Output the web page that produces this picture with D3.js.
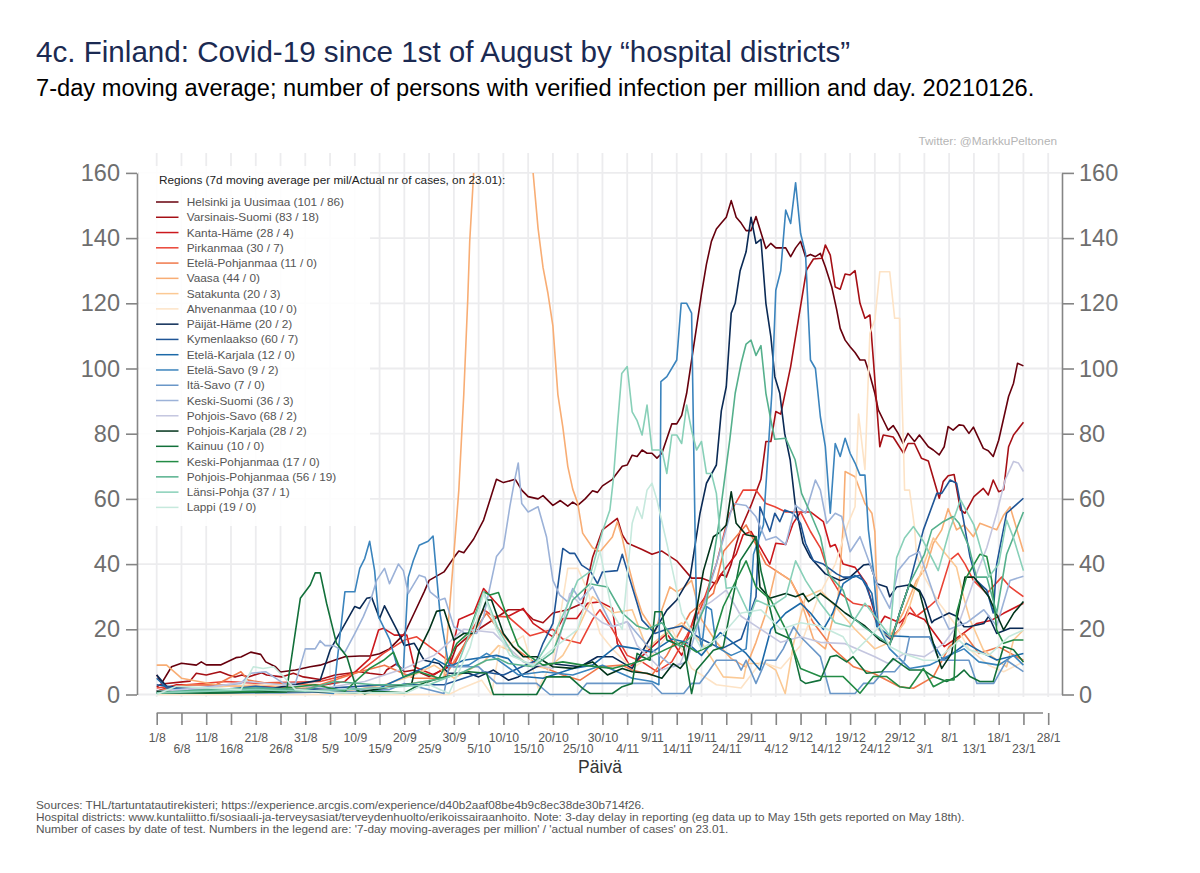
<!DOCTYPE html>
<html><head><meta charset="utf-8">
<script src="https://cdn.jsdelivr.net/npm/d3@7"></script>
<style>html,body{margin:0;background:#fff}svg{display:block;font-family:"Liberation Sans",Arial,sans-serif}</style>
</head><body><div id="c"></div>
<script>
// Values are [days since 1 Aug, cases per million] at the line's visible vertices.
const helsinki=[[0,6],[1,3.5],[3,8.5],[5,9.6],[8,9],[9,10],[10,9.1],[13,9.1],[16,11.3],[17,11.5],[19,13],[21,12.3],[22,10],[24,8.5],[25,6.9],[28,7.5],[31,8.5],[33,9],[36,10.6],[38,11.6],[41,11.8],[43,11.8],[45,12.5],[47,14],[50,18.6],[52,25],[54,31.5],[55,35],[58,37.6],[60,42],[61,44],[62,43.5],[64,47.7],[66,53.5],[68.6,66],[70,65],[72.4,66],[73.7,62.7],[75,60.7],[77,60],[78,61],[80,58],[81.5,59.5],[83,57.8],[84,59],[85,58],[86.5,60],[88,62.5],[89,62],[90,64],[92,66],[94,70],[95,70.4],[96,73.4],[97,73],[98,75],[99,74],[100,74],[101,72.5],[102,74],[104,83],[105,83],[106,85.6],[107,92.4],[108,102.6],[109,112.7],[110,123],[111,132],[112,139],[113,142.8],[114,144.6],[115,146.4],[116,151.5],[117,146.4],[118,144.6],[119,142.3],[120,142.3],[121,146.6],[122,141.7],[123,136.8],[124,138.4],[125,137],[127,137],[128,134.3],[129,137],[130,139],[131,134.3],[132,135],[133,134.3],[134,135.3],[135,131.2],[136.3,125],[137.3,118],[138,112.3],[139,108.7],[140,106.7],[141,104.9],[142,102.6],[143,102.6],[144,98],[145,92.4],[145.7,87.3],[146.7,84.2],[147.7,81.1],[148.7,82.5],[149.7,80.1],[150.7,77],[151.7,80.1],[153,77.6],[154,79.6],[155.8,76],[156.8,75],[158,73.5],[159,76],[159.8,82.2],[160.8,81.1],[162,82.7],[162.9,82.5],[164,80.1],[164.9,82],[166.9,75.5],[167.9,74.8],[168.9,73],[170,78],[172,91.4],[173,95.5],[173.8,101.6],[175,100.8]];
const varsinais=[[0,2.4],[1,3.2],[6.7,4.1],[8,6.5],[10,6],[12.8,7],[14.5,6],[15.8,5.4],[17.2,6],[18.5,5.4],[21.2,6.7],[22.2,6],[25.2,5.4],[27.6,6.5],[29.6,5.4],[33,4.6],[36,6],[41,7],[43,6.5],[45.8,6],[46.4,7.5],[48.5,9.5],[50,7],[52,7.5],[55,5.5],[59,8.5],[60.5,14.6],[63,18],[66,21],[69,24],[71,26],[74,26],[76,23],[78,22],[80,25],[83,26],[86,28],[88,42],[90,50.5],[93,54],[94,49],[95,46.5],[98,44.5],[100,43],[102,44],[105,41],[108,35.7],[110,35.7],[113,34],[114,37],[115,36],[116,40],[117,46],[118,51],[120,58],[122,66],[123,77.6],[124,77.6],[125,86.8],[126,86],[128,100.6],[131.2,130.2],[132.6,133.6],[134.3,133.8],[135,137.9],[136,134.8],[137,125],[138,124.3],[139,129],[140,128.7],[141,130],[142,120],[143,115.4],[144,116.4],[144.7,102.6],[146,76],[146.7,79.6],[148.7,79],[150.8,74],[151.7,77],[153,77],[154.4,72.5],[155.8,71.6],[158,60.2],[158.8,65.3],[159.8,67.1],[161,67.5],[162.3,56.6],[163.2,55.6],[165,60.7],[166.9,63.2],[167.9,61.2],[168.9,65.8],[170,62.2],[171,62.8],[172,76],[173,79.6],[175,83.5]];
const kantaHame=[[0,1],[4,3],[10,3],[20,2.5],[30,2],[38,4],[43,11],[44.8,19.8],[45.8,20.3],[48,18.2],[50.5,18.2],[52,8.5],[56,6],[59,9],[61,23],[64,25],[66,32.5],[68,29],[71,24],[74,26.4],[76,21.8],[80,17.7],[82,23.3],[84.8,23.3],[87,28],[89.5,28.4],[92,26.5],[93,15.7],[95.6,8.5],[99.6,14],[103,18.7],[106,12],[109,26],[113,35],[117,43],[118.4,49],[120,50],[123.8,40],[125,46.4],[127,46],[128.5,52.5],[130,56],[132,56],[134.6,53],[136,45.3],[137,46],[138.6,40],[141,39],[143.3,34],[145.7,20.8],[147,24],[150,22],[152,25],[155,23],[159,14.7],[162,17.8],[165.6,21.8],[168.6,22.8],[171,24.9],[175,28]];
const pirkanmaa=[[0,2],[6,3],[14,4],[20,3.5],[33,4],[41,7],[45.8,12.6],[50,16.7],[52.5,17.7],[55.2,14.6],[57,12.6],[60,9],[63,18],[66,26],[68,24],[71,23.8],[75.4,18],[80,20],[82,17],[85.5,15.7],[88,23],[89.5,26],[92,20],[95,12],[98,10],[101,7],[104,10],[107,18],[110,27],[113,40],[115.5,55],[118.4,62.7],[121,62.7],[123,58.6],[124.8,57.6],[127,56],[130,56],[132,50],[134,45],[136,36],[138,31],[140.6,28],[144,27],[145.7,20.8],[148,17],[150,20],[152,27],[153.4,24],[156,27],[157.8,29.5],[160.2,41.3],[161.8,43.3],[163.2,40],[164.9,35],[167.6,31],[170.6,36],[172.3,33],[175,30]];
const etelaPohjanmaa=[[0,1],[6,3],[12,3],[17,7],[18.5,4.4],[22,3.5],[33,3],[41,7],[46,9],[52,5],[58,5],[62,15],[66.6,24.9],[68,22],[72,14.6],[77,9],[82,6],[85.5,4.4],[89.5,8.5],[94,9],[96,7.5],[100,6],[103,12],[107.7,25],[112.4,31],[114.5,44],[119,52],[123,40],[127,36],[128,35],[132.6,22],[136.6,14],[140.7,8.5],[144.7,6.5],[150,2.4],[152.8,1.9],[156.8,5.4],[160,14.6],[163,18.7],[166,12.6],[170,14.6],[175,10.5]];
const vaasa=[[0,9],[2,9],[5,5],[12,3],[22,2],[34,1],[45,2],[54,4],[58,5],[60,43],[61,62.7],[62,92],[62.8,121],[63.2,139],[64,160],[65,178],[75,178],[76,160],[77,143],[78,131],[79,123],[80,113],[81,92],[82,82],[83,70],[84,63],[85,58.7],[86,49.5],[88,45],[89.5,43.8],[92,48.3],[93,53],[94,48],[95,41],[96.6,31.5],[98,25],[100.6,19],[102,26],[103.6,33],[105,31.5],[106.6,33],[108,35],[110,23],[113,16],[116,11],[119,8.4],[121,16],[123,25],[125,38],[128,35],[130,29],[132.6,17],[135,14],[137.6,30],[138.6,51.5],[139,68.4],[141,66.8],[143,58.6],[144.4,55.6],[145,50],[145.7,20],[148,17.7],[150.7,25],[153.4,35],[155.4,39],[156.8,46.4],[158.5,50.5],[159.8,57],[161.5,50.5],[163,52],[164.9,48.4],[166.2,52.5],[169.6,50.5],[171,55],[172.3,57.6],[175,43.8]];
const satakunta=[[0,1],[8,2],[20,3],[30,2],[38,1],[46,3],[52,6],[56,9],[60,5],[66,10],[69,15],[72,13],[75,9],[79,8],[82,12],[85,20],[88,30],[92,25],[96,26],[99,14],[102,18],[106,22],[110,16],[114.4,5.4],[118.5,5],[119.1,9.5],[123,9.5],[125,7.5],[126.9,0.3],[128.6,15.7],[131,30],[134,32],[137,27],[141,20],[145,14],[148,16],[151,22],[153,32],[156.8,48],[158.8,44],[161.5,39],[162.9,30],[164.2,23],[166.9,13.7],[169.6,10.6],[171.6,8.5],[173,16.7],[175,19.8]];
const ahvenanmaa=[[0,0],[59,0],[61,1.5],[65.6,4.4],[67.6,0],[69.3,14.6],[71,15],[74,18],[75.5,10.5],[77,2],[80,10],[83,38.7],[85,38.7],[87,32],[89.5,18.7],[92,14],[96,8],[100,12],[104,20],[108,8],[113,3],[118,2],[122,10],[126,8],[130,15],[133.6,30],[137,40],[139.6,52.5],[141,57.6],[141.7,86],[143,69],[144,110.8],[145,115],[146,129.7],[148,129.7],[149,115.4],[150,115.4],[150.8,75],[151,62.7],[152,62.7],[153,51.5],[153.4,43],[155,36],[158,28],[161,22],[164,14],[168,9],[171,7],[175,10]];
const paijatHame=[[0,6],[2,2.5],[8,2],[20,1],[33,4.4],[35,13.6],[37.7,20.8],[40,27],[41,26.4],[42.4,29.5],[43.4,29.8],[45,23.3],[46,27.2],[48.5,19.8],[50,15],[52,15.7],[54,10.5],[57,9.5],[59,6.5],[63,6.5],[65,5.4],[68,7.5],[71,4.4],[73,5.4],[76.7,8.5],[79.4,9.5],[85.5,8.5],[89,11.6],[92,11.6],[96,8],[100.6,19.7],[103,25.9],[105,29],[107.7,36],[109.7,55.6],[111,64.8],[113,70.4],[114,87],[115,94.4],[116,117],[116.8,120],[117.8,130],[119,135.8],[120,146.4],[121,138.4],[122,139.6],[123,120],[124,109.8],[124.8,97.5],[125.8,92.4],[126.8,80],[127.9,72],[128.9,58.6],[130.5,46.4],[132,42],[135,37],[138,35],[140,36],[142.7,39.7],[144,40],[145.4,34],[147.4,33],[148,30],[149.4,33],[151.8,33.6],[154,32],[155,29],[156.5,22],[157,22.8],[160,25],[161.5,24],[163,20.8],[164,20.8],[167,21.8],[168,24],[169.6,18.7],[172.3,20.3],[175,20.3]];
const kymenlaakso=[[0,3],[4,2],[15,1.5],[30,1.5],[46,3],[58,3],[66,7],[70,6],[76.7,10.5],[78,15.7],[80,21.8],[82,44.8],[83.4,43.3],[84.4,43.3],[85.8,39.7],[87.5,38],[89,34],[90,37.6],[93,38],[94,43],[95,38],[97,28],[98,22.8],[100.6,18.7],[103,20],[106,21],[110,17],[114,14],[118,17],[121,30],[121.8,57.6],[123.8,50],[124.8,55.6],[125.8,53],[126.8,56.6],[128.5,55.6],[130,52.5],[131,46.4],[132.6,41],[134.6,40],[137.3,37],[138.6,36],[140.6,36],[142,36.6],[143.3,33],[144.7,27],[145.7,20.8],[147,18.2],[148.4,16.7],[150,25],[152,34],[154.8,50.5],[157.5,61.7],[158.5,61.7],[160.2,65.8],[161.5,64.8],[162.9,53.5],[164.2,42.3],[165.5,35],[167.6,32],[168.9,25],[169.6,40],[171.6,55.6],[175,60.2]];
const etelaKarjala=[[0,5],[2,2],[10,1],[20,2.5],[30,1],[45,2],[55,9],[56,11],[59,8.5],[62,10.5],[68.6,12],[71,11],[74,5.5],[78,5],[84,8],[88,9],[93,15],[97,14],[100,13],[104,17],[107,16],[110,12],[113.8,19],[116.5,15.7],[119,12.6],[121.8,7.5],[124,20],[127,25],[130,28],[132,25],[134.6,20],[136.5,25],[138.6,34],[141,36.5],[142.7,35],[144.4,31],[145.4,20.8],[148,18],[152,17.7],[156,17.7],[158.8,10.5],[163.5,15.7],[167,12.6],[169.6,10.6],[175,12.6]];
const etelaSavo=[[0,1],[10,1],[22,2],[35.7,0.3],[37,18],[38,31.5],[40,31.5],[41,38.7],[42,41.7],[43,47],[44,38],[44.8,23.8],[47,17],[48.5,9],[49.8,7.5],[50.8,36],[51.8,41],[53,45.8],[54.8,47],[55.8,48.6],[57.2,24.9],[58.9,9.5],[60,8.5],[63,9],[66.6,12.6],[69,10.5],[73,6],[78,7],[84,6],[90,9],[96,5],[100,4],[101.4,3],[101.8,96],[103,97.5],[105,102.6],[105.9,120],[107,120],[108,117],[108.7,50],[109,25],[110,14],[111,27],[112,26],[113,14.6],[116,12],[119,14],[120,31],[120.5,43],[122.5,52],[124.2,92.4],[125,124],[126,130],[127,148.6],[128,144.5],[129,157],[130,141.5],[131,135.3],[132,102.6],[133,100],[134,85.2],[135,76],[136,55.6],[137,77],[138,73],[139,78.6],[140,74],[141,71],[142,67.3],[143,67.3],[143.7,50.5],[144.7,38],[145.7,20.8],[148,14],[152,8],[156,9],[160,12],[163,14],[166,10],[170,9],[173,12],[175,9]];
const itaSavo=[[0,0.5],[25,0.5],[40,1],[47,1.5],[50,3.4],[58,0.3],[59,8.5],[65,8.5],[68.6,3.4],[76.7,3.4],[79.4,0],[85,0],[86.8,3.4],[100,3.4],[102,0.3],[106.4,0.3],[108,3.4],[109.6,3.4],[111.4,7],[113,10.5],[117,10.5],[118,7.5],[119,10.5],[121,3.4],[123,10.5],[125,10.5],[126.5,14],[128.6,20.8],[130,17.7],[134,11.6],[136,0.3],[141,0.3],[142.7,3.4],[144.7,3.4],[146.7,7],[149,7],[151,10.5],[152,17.7],[156,17.7],[158,10.5],[161,10.5],[164,10.5],[165.6,3.4],[169,3.4],[171.6,10.5],[175,7]];
const keskiSuomi=[[0,1],[8,2],[17,3.4],[19,6.5],[22,7],[25.6,3.4],[28,3.4],[30,14],[32,14],[33,16.5],[34,15],[35.7,15],[38,13],[40,18.7],[41.7,23.8],[43.4,30],[44.4,35],[46,38.7],[47,34],[48.8,40],[49.8,38],[50.8,31],[53,36.6],[54.2,36],[55.2,31.5],[57.2,29],[58.2,29.5],[60,20.8],[62,19],[64.6,18.7],[66,23.8],[68.6,42.3],[70,45],[71.3,57.6],[72.3,66],[73,71],[73.7,58.6],[75,56],[77,57.6],[78.7,48.4],[80,35],[81.4,30.5],[83,28.4],[84,32.5],[85.5,29],[88,33],[92,20.8],[95,22.3],[99,15],[104.3,8.5],[107,10],[110.4,27],[113,40],[116.4,58.6],[119,58],[121,54.5],[123,47.4],[125,48.4],[127,46],[129,58],[131,55.6],[133,65.8],[134,62.7],[135.3,52.5],[137,55.6],[138.3,54.6],[140,43.8],[142,48.4],[144,40],[145.4,34],[148,26.4],[149.7,38],[152,42.3],[154,43.8],[155,39],[157.5,28],[160,20],[163.5,22],[167,26],[169.6,21],[172.3,35],[175,36.3]];
const pohjoisSavo=[[0,1],[10,2],[18,4],[25,3],[34,2],[42,4],[50,8],[56,12],[62,20],[68,19],[74,10],[80,8],[83.4,31],[86,27],[90,22],[92,20.8],[95,22.3],[97,15],[102,7.5],[105.7,9.5],[110.4,27],[112,28.5],[115,32],[118,24],[122,20],[126,16],[130,17.7],[134,16],[139,15.6],[145,11.6],[147.7,9.5],[151,12.6],[155,11.6],[159,15.7],[162,22],[165,35],[167.6,45],[169.6,55.6],[171.3,65.8],[173,71.5],[174,71],[175,68.4]];
const pohjoisKarjala=[[0,1],[10,0.5],[30,1],[40,0.5],[51.5,3.4],[53,13.6],[55,19.8],[56.5,25.5],[58,26],[60,16.7],[62,18.7],[64,18.7],[66.6,29],[67.6,29],[70,18.7],[72,14.6],[74,11.6],[76.7,11.6],[80,8.5],[84,8],[88,10],[91,6],[94,8],[96,7],[99,6.5],[102,5],[104.3,9.5],[105.7,8],[107,10.5],[108.4,20.8],[110.4,38],[112.4,48.4],[113.4,49.4],[115,52],[116,62.2],[117,52.5],[119,49],[121,48.4],[121.8,33],[123.8,29.5],[127,31],[129,30],[130.5,31],[131.6,28.5],[134,31],[136.6,28],[139,25],[143,21],[146,16.7],[148,15.2],[150,25],[152,34],[154,31.5],[155.5,22.8],[156.8,15.7],[158.5,8],[160.5,12.6],[161.5,22.8],[163.2,36],[165,36],[168,30],[171,19.8],[173,24.9],[175,28.5]];
const kainuu=[[0,0.5],[12,0.5],[26.2,0.8],[29,29.5],[31,33.6],[32,37.3],[33,37.3],[34.3,28],[36.3,15.7],[38.4,11.6],[40.4,1.4],[42,0.2],[44,1],[50,0.5],[53,3],[57,5],[60,6],[63,7],[66.6,6.5],[68,0],[76.7,0],[78.7,5.4],[83.4,5.4],[86,1.9],[87.5,0.3],[92,0.3],[94,2.4],[96,3.4],[97,12.6],[98,11.6],[99.6,10.5],[100.6,25.4],[102,25.4],[103,16.7],[106.4,14.6],[108,0.3],[109,7.5],[112.4,13.6],[114.4,14.6],[117.8,41],[121,48.4],[122,38],[125,19],[128,17],[130,4.4],[131,3.4],[134,4.4],[136,11.6],[137.3,12],[139.3,10],[140.6,11.6],[143.3,6.5],[146.4,7],[148.7,11],[152,7.5],[154.8,7.5],[156.8,5.5],[159.5,4],[161.5,5.5],[163,7.5],[164.2,5.5],[166.2,4],[168.9,4],[171,14.7],[173,13.7],[175,10]];
const keskiPohjanmaa=[[0,0.5],[8,1],[20,1],[32,3],[38,1],[43,8],[45.8,10.5],[47.8,13],[49.8,5.4],[53,7],[57,5],[60.6,15.7],[63,19],[66,31.5],[67.3,30.5],[69,31.3],[71,22.8],[73,15],[75,12],[78,9],[82,10],[86,9],[92,8],[96,9.5],[99,11],[103,14],[106,16],[109,13],[112,15],[114.4,27],[117,35],[119,41],[121,33],[124,29],[127,20],[130,8],[134,5.5],[138.6,5.5],[142,0.4],[144.7,5.5],[147.4,5.5],[150,2.4],[152,1.9],[154.8,8],[156.8,2.4],[159.5,4.5],[161,4.5],[161.5,25],[163.5,36],[166.2,43],[167.6,42.3],[168.6,35],[169.6,19.8],[171,15.7],[173,16.7],[175,16.7]];
const pohjoisPohjanmaa=[[0,0.5],[10,1.5],[20,2],[30,1.5],[36,4],[44,3],[50,3],[58,5],[62,7],[66.6,10.5],[69,11],[71,9.5],[76,8.5],[80,13],[84,29],[87.5,34],[89,33.5],[91,33],[94,25],[97,21],[99,20],[102,22],[105.7,14.6],[108,18],[111,28],[113.4,51.5],[115.7,78],[116.8,92.4],[118,101.6],[119,107.5],[120,108.7],[121,104],[122,107],[123,92.4],[124,84.2],[124.8,78.3],[127,78.6],[128.9,72],[130.2,61.7],[132,55.6],[134,48.4],[135.6,37],[138.6,32],[140.3,24],[142.7,20.8],[148,15.2],[150,25],[152,34],[155,43],[156.5,50.5],[158.8,53],[160.8,54.6],[162,52.5],[164,45.3],[165.5,36],[167.6,36],[169.6,25],[171.6,43],[173,48.4],[175,56]];
const lansiPohja=[[0,0.5],[20,1.5],[30,1],[45,2],[55,3],[60,6],[63,18],[66,31.5],[69,20],[72,12],[76,8.5],[80,17.7],[82.8,27],[85,35],[87.8,38],[90,50],[91.5,56.6],[92.2,66],[93,82],[93.9,98.5],[95,100.6],[96,86.7],[97,84],[98,79.6],[99,88.8],[100,75],[102,75],[103,67.8],[104,79.6],[105,79.6],[106,77],[107,88.8],[108,81],[109,75],[110,77.6],[111,67.8],[112,67.8],[113,61.7],[114,45.3],[115,32.6],[117,33],[119.8,24],[121,29],[124,27],[127,30],[129,41],[131,35],[134,28],[137,22],[140,20.8],[143,28],[146,22],[148,18],[149.4,42],[151,48],[152.8,51.5],[154.8,47],[157.8,38],[160,50],[162.3,59.7],[165,52],[168,36],[170,40],[171.6,53.5],[173,48],[175,38]];
const lappi=[[0,0],[4,2.5],[17,1.5],[19.5,8.5],[21.5,8],[23.6,8.5],[25.6,5.5],[28,1.5],[38,0.5],[50.5,0.5],[54.5,3.4],[59,0.3],[63.3,14.6],[66,31],[68.6,20],[71.3,12],[76,9],[80,14],[85,20],[89.5,44],[92,25],[94,20],[96,52.5],[97,57.6],[98,54],[99,62.7],[100,64.8],[101,59.7],[102.3,51],[103,46.4],[104.3,37],[106,25],[110,14],[114,18],[118,25],[122,26],[126,20],[130,22],[134,21],[138.6,17.7],[140.6,12.6],[144,17.7],[146,21],[148,14.7],[150.7,12.6],[154.8,10.5],[157.5,10.5],[162,16.7],[164,13.7],[168,12],[172,17.7],[175,19.8]];

const seriesData=[helsinki,varsinais,kantaHame,pirkanmaa,etelaPohjanmaa,vaasa,satakunta,ahvenanmaa,paijatHame,kymenlaakso,etelaKarjala,etelaSavo,itaSavo,keskiSuomi,pohjoisSavo,pohjoisKarjala,kainuu,keskiPohjanmaa,pohjoisPohjanmaa,lansiPohja,lappi];
const legendLabels=["Helsinki ja Uusimaa (101 / 86)","Varsinais-Suomi (83 / 18)","Kanta-Häme (28 / 4)","Pirkanmaa (30 / 7)","Etelä-Pohjanmaa (11 / 0)","Vaasa (44 / 0)","Satakunta (20 / 3)","Ahvenanmaa (10 / 0)","Päijät-Häme (20 / 2)","Kymenlaakso (60 / 7)","Etelä-Karjala (12 / 0)","Etelä-Savo (9 / 2)","Itä-Savo (7 / 0)","Keski-Suomi (36 / 3)","Pohjois-Savo (68 / 2)","Pohjois-Karjala (28 / 2)","Kainuu (10 / 0)","Keski-Pohjanmaa (17 / 0)","Pohjois-Pohjanmaa (56 / 19)","Länsi-Pohja (37 / 1)","Lappi (19 / 0)"];
const colors=["#67000d","#a50f15","#cb181d","#ea4335","#f0784a","#f8ad74","#fbc994","#fde3c6","#0a2a55","#1f5596","#1c69a8","#3b84bd","#6a97c8","#9cb2d8","#c4c6df","#00331a","#12703a","#238b45","#55b08c","#88d0b8","#c6e9dd"];
const xTickDays=d3.range(0,181,5);
const xTickLabels=["1/8","6/8","11/8","16/8","21/8","26/8","31/8","5/9","10/9","15/9","20/9","25/9","30/9","5/10","10/10","15/10","20/10","25/10","30/10","4/11","9/11","14/11","19/11","24/11","29/11","4/12","9/12","14/12","19/12","24/12","29/12","3/1","8/1","13/1","18/1","23/1","28/1"];
const yTicks=[0,20,40,60,80,100,120,140,160];
const notes=["Sources: THL/tartuntatautirekisteri; https://experience.arcgis.com/experience/d40b2aaf08be4b9c8ec38de30b714f26.","Hospital districts: www.kuntaliitto.fi/sosiaali-ja-terveysasiat/terveydenhuolto/erikoissairaanhoito. Note: 3-day delay in reporting (eg data up to May 15th gets reported on May 18th).","Number of cases by date of test. Numbers in the legend are: '7-day moving-averages per million' / 'actual number of cases' on 23.01."];

const W=1200,H=873;
const x=d3.scaleLinear().domain([0,180]).range([156.7,1048.2]);
const y=d3.scaleLinear().domain([0,160]).range([694.5,172.9]);
const svg=d3.select("#c").append("svg").attr("width",W).attr("height",H);

svg.append("text").attr("x",36).attr("y",62).attr("font-size",29.6).attr("fill","#1b2a52").text("4c. Finland: Covid-19 since 1st of August by “hospital districts”");
svg.append("text").attr("x",36).attr("y",96).attr("font-size",23.65).attr("fill","#000").text("7-day moving average; number of persons with verified infection per million and day. 20210126.");
svg.append("text").attr("x",1057).attr("y",145).attr("text-anchor","end").attr("font-size",11.8).attr("fill","#b5b5b5").text("Twitter: @MarkkuPeltonen");

const grid=svg.append("g").attr("stroke","#ececee").attr("stroke-width",1.8);
grid.selectAll("line.v").data(xTickDays).join("line").attr("class","v").attr("x1",d=>x(d)).attr("x2",d=>x(d)).attr("y1",153).attr("y2",697);
grid.selectAll("line.h").data(yTicks).join("line").attr("class","h").attr("x1",138).attr("x2",1062).attr("y1",d=>y(d)).attr("y2",d=>y(d));

svg.append("clipPath").attr("id","plot").append("rect").attr("x",140).attr("width",920).attr("y",y(160)).attr("height",y(0)-y(160)+4);
const line=d3.line().x(d=>x(d[0])).y(d=>y(d[1]));
svg.append("g").attr("clip-path","url(#plot)").selectAll("path").data(seriesData).join("path")
  .attr("d",line).attr("fill","none").attr("stroke",(d,i)=>colors[i]).attr("stroke-width",1.6).attr("stroke-linejoin","round");

// legend
svg.append("rect").attr("x",139).attr("y",166).attr("width",231).attr("height",360).attr("fill","#fff").attr("fill-opacity",.88);
const lg=svg.append("g");
lg.append("text").attr("x",159).attr("y",184).attr("font-size",11.8).attr("fill","#222").text("Regions (7d moving average per mil/Actual nr of cases, on 23.01):");
const row=lg.selectAll("g").data(legendLabels).join("g").attr("transform",(d,i)=>`translate(0,${202+i*15.27})`);
row.append("line").attr("x1",156).attr("x2",178.5).attr("stroke",(d,i)=>colors[i]).attr("stroke-width",1.5);
row.append("text").attr("x",186.7).attr("y",4).attr("font-size",11.8).attr("fill","#555").text(d=>d);

function styleAxis(g){g.select(".domain").attr("stroke","#858585").attr("stroke-width",1.6);g.selectAll(".tick line").attr("stroke","#858585").attr("stroke-width",1.6);g.selectAll("text").attr("font-family",'"Liberation Sans",Arial,sans-serif');}
const yl=svg.append("g").attr("transform","translate(137,0)").call(d3.axisLeft(y).tickValues(yTicks).tickSize(11).tickSizeOuter(0).tickPadding(6)).call(styleAxis);
const yr=svg.append("g").attr("transform","translate(1062,0)").call(d3.axisRight(y).tickValues(yTicks).tickSize(12).tickSizeOuter(0).tickPadding(5)).call(styleAxis);
[yl,yr].forEach(g=>g.selectAll("text").attr("font-size",23.5).attr("fill","#6e6e6e"));

const xa=svg.append("g").attr("transform","translate(0,713)").call(d3.axisBottom(x).tickValues(xTickDays).tickFormat((d,i)=>xTickLabels[i]).tickSize(12).tickSizeOuter(0)).call(styleAxis);
xa.select(".domain").attr("d",`M${x(0)},0H1043`);
xa.selectAll(".tick text").attr("font-size",12.2).attr("fill","#555").attr("y",(d,i)=>i%2?36:25).attr("dy","0.32em");

svg.append("text").attr("x",600).attr("y",773).attr("text-anchor","middle").attr("font-size",17.5).attr("fill","#333").text("Päivä");
svg.append("g").selectAll("text").data(notes).join("text").attr("x",36).attr("y",(d,i)=>809+i*12).attr("font-size",11.8).attr("fill","#555").text(d=>d);
</script></body></html>
